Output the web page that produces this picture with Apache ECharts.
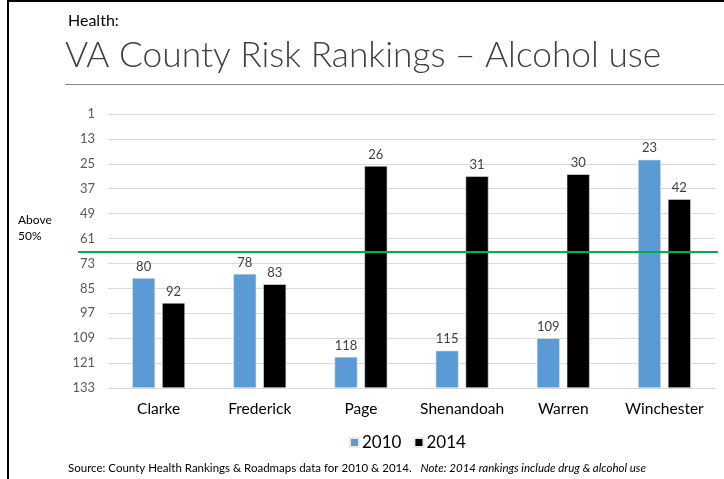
<!DOCTYPE html>
<html>
<head>
<meta charset="utf-8">
<script src="https://cdn.jsdelivr.net/npm/echarts@6/dist/echarts.min.js"></script>
<style>html,body{margin:0;padding:0;background:#fff;}#c{width:724px;height:479px;}</style>
</head>
<body>
<div id="c"></div>
<script>
const categories = ['Clarke', 'Frederick', 'Page', 'Shenandoah', 'Warren', 'Winchester'];
const rank2010 = [80, 78, 118, 115, 109, 23];
const rank2014 = [92, 83, 26, 31, 30, 42];
const seriesNames = ['2010', '2014'];
const rankTop = 1;
const rankBottom = 133;
const rankStep = 12;
const thresholdRank = 67.5;

const FONT = 'Lato, "Open Sans", sans-serif';
const toAxis = r => rankBottom - r;
const toRank = v => rankBottom - v;

const chart = echarts.init(document.getElementById('c'), null, {renderer: 'canvas'});

function barSeries(name, ranks, color) {
  return {
    name: name,
    type: 'bar',
    data: ranks.map(toAxis),
    barWidth: 23,
    barGap: '30%',
    itemStyle: {color: color, borderColor: '#e8e8e8', borderWidth: 0.6},
    label: {
      show: true, position: 'top', distance: 5,
      color: '#404040', fontSize: 13, fontFamily: FONT,
      formatter: p => String(toRank(p.value))
    }
  };
}

chart.setOption({
  animation: false,
  title: [
    {text: 'Health:', left: 63, top: 8, textStyle: {fontFamily: FONT, fontSize: 16, fontWeight: 'normal', color: '#000'}},
    {text: 'VA County Risk Rankings – Alcohol use', left: 60, top: 33, textStyle: {fontFamily: FONT, fontSize: 35.3, fontWeight: 300, color: '#404040'}},
    {text: '{a|Source: County Health Rankings & Roadmaps data for 2010 & 2014.   }{b|Note: 2014 rankings include drug & alcohol use}',
     left: 63, top: 457,
     textStyle: {fontWeight: 'normal', rich: {
       a: {fontFamily: FONT, fontSize: 11.5, fontWeight: 'normal', color: '#000'},
       b: {fontFamily: FONT, fontSize: 11.5, fontWeight: 'normal', color: '#000', fontStyle: 'italic'}
     }}}
  ],
  legend: {
    data: seriesNames,
    left: 344, top: 429,
    icon: 'rect', itemWidth: 9, itemHeight: 9, itemGap: 12,
    textStyle: {fontFamily: FONT, fontSize: 17, color: '#000', padding: [0, 0, 0, -2]}
  },
  grid: {left: 108, right: 9, top: 114, bottom: 91},
  xAxis: {
    type: 'category',
    data: categories,
    axisLine: {show: false},
    axisTick: {show: false},
    axisLabel: {interval: 0, hideOverlap: false, fontFamily: FONT, fontSize: 15.5, color: '#000', margin: 13}
  },
  yAxis: {
    type: 'value',
    min: 0, max: rankBottom - rankTop, interval: rankStep,
    axisLine: {show: false},
    axisTick: {show: false},
    splitLine: {lineStyle: {color: '#d9d9d9', width: 1}},
    axisLabel: {fontFamily: FONT, fontSize: 13, color: '#595959', margin: 13, formatter: v => String(toRank(v))}
  },
  series: [
    barSeries(seriesNames[0], rank2010, '#5b9bd5'),
    barSeries(seriesNames[1], rank2014, '#000000')
  ]
});

const yLine = chart.convertToPixel({yAxisIndex: 0}, toAxis(thresholdRank));
chart.setOption({
  graphic: [
    {type: 'line', shape: {x1: 8, y1: 1, x2: 724, y2: 1}, style: {stroke: '#000', lineWidth: 2}},
    {type: 'line', shape: {x1: 8, y1: 0, x2: 8, y2: 479}, style: {stroke: '#000', lineWidth: 2}},
    {type: 'line', shape: {x1: 65, y1: 84.5, x2: 724, y2: 84.5}, style: {stroke: '#8c8c8c', lineWidth: 1}},
    {type: 'line', z: 100, shape: {x1: 78, y1: yLine, x2: 718, y2: yLine}, style: {stroke: '#00b050', lineWidth: 2}},
    {type: 'text', left: 18, top: 212, style: {text: 'Above\n50%', font: '12px ' + FONT, fill: '#000', lineHeight: 16}}
  ]
});
</script>
</body>
</html>
